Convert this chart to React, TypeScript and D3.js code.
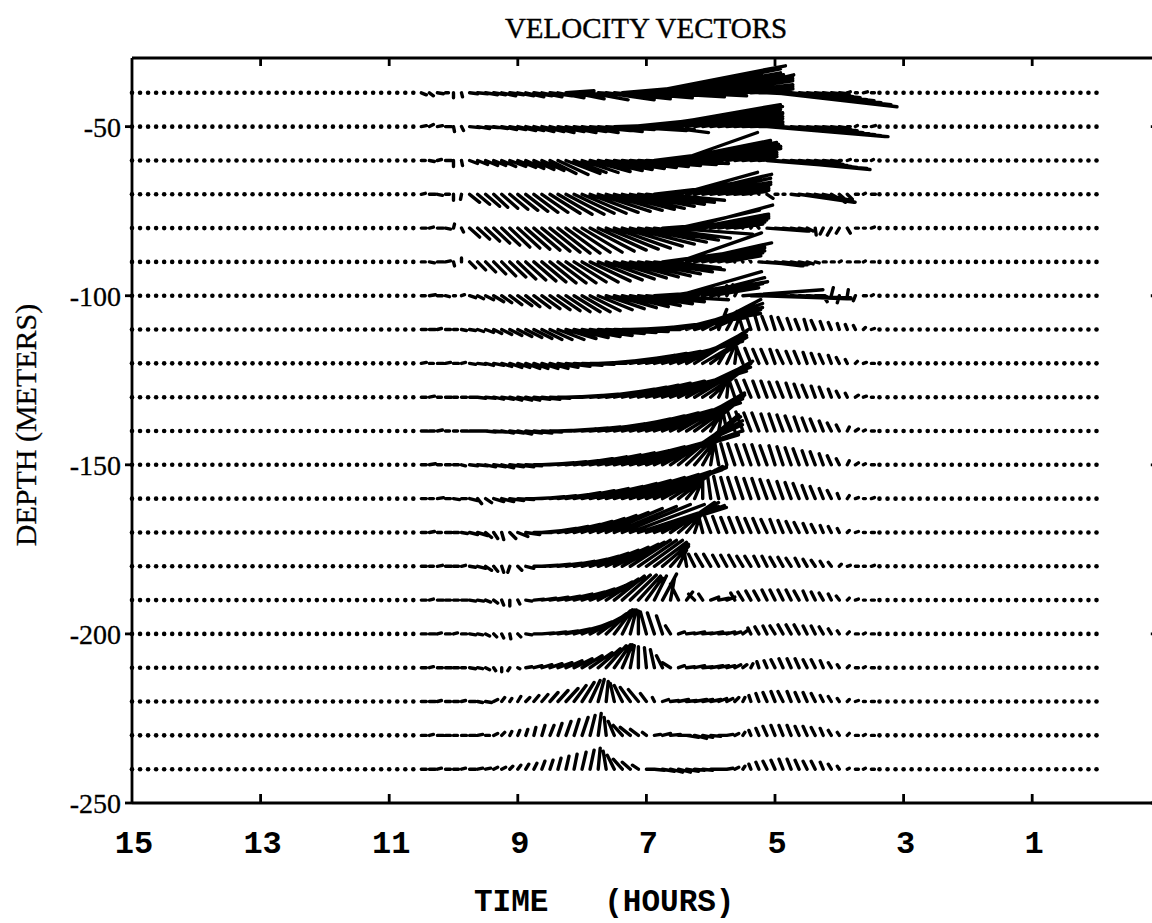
import React from 'react';
import * as d3 from 'd3';

// ---------- data ----------
const DEPTHS = [-40, -50, -60, -70, -80, -90, -100, -110, -120, -130, -140, -150, -160, -170, -180, -190, -200, -210, -220, -230, -240];
const TIME_TICKS = [13, 11, 9, 7, 5, 3, 1];
const TIME_LABELS = [15, 13, 11, 9, 7, 5, 3, 1];
const DEPTH_TICKS = [-50, -100, -150, -200, -250];
const DEPTH_LABELS = ['-50', '-100', '-150', '-200', '-250'];

// sampling of the record (hours): 7.5-minute samples
const RECORD_START = 15;
const RECORD_END = 0;
const SAMPLE_STEP = 0.125;
// window with measurable currents (hours), sampled values below (mm/s)
const WINDOW_START = 10.5;

const U_40 = [5,4,6,3, 0,1, 8,10,12,12,14,14,16,18,18,20, 22,26,28,30,34,38,42,48, 56,70,62,90,139,70,118,110,105,60,98,90,82,75,66,58,50,40,30,20, 122,108,90,75,60,45,30,18,8,3,2,4,3];
const V_40 = [-2,-3,-1,0, -5,-4, -1,-1,-2,-2,-3,-2,-3,-4,-3,-4, -3,-5,2,-6,-4,-7,-3,-7, -6,6,-5,12,27,-4,24,20,18,-3,16,14,12,18,8,6,4,2,0,-1, -14,-12,-10,-8,-7,-5,-4,-2,-1,1,0,1,0];

const U_50 = [5,4,5,6, 1,2, 10,12,12,14,15,16,18,18,20,22, 24,26,30,32,36,40,44,48, 60,64,80,56,110,126,46,112,102,96,88,80,72,64,56,48,40,30,20, 118,113,98,84,70,56,42,28,15,6,3,2,3,4];
const V_50 = [1,2,1,0, -5,-4, -1,-2,-1,-2,-3,-3,-4,-4,-5,-5, -6,-5,-6,-5,-6,-4,-5,-3, 2,-4,8,-3,16,22,-6,20,17,14,14,13,10,8,5,4,2,1,0, -10,-10,-9,-8,-7,-6,-4,-3,-2,-1,0,1,0,1];

const U_60 = [4,5,4,6, 0,1, 8,10,12,12,14,16,18,18,20,22, 26,30,34,32,36,40,44,46,50,54,58,62, 70,96,66,100,79,90,84,78,70,58,50,42,34,24,14, 100,95,80,66,52,40,28,16,6,2,3,2,3,2];
const V_60 = [0,-1,1,0, -6,-5, -3,-4,-5,-5,-6,-6,-7,-8,-9,-10, -13,-14,-13,-12,-12,-11,-10,-9,-8,-7,-6,-5, -4,12,-3,20,28,18,16,14,12,11,8,6,4,2,1, -8,-9,-8,-7,-6,-5,-4,-2,-1,0,1,0,0,1];

const U_70 = [4,6,5,4, 0,-1, 10,12,14,14,16,18,20,22,24,26, 30,34,38,40,44,48,52,56,60,62,64,66, 68,86,62,90,79,85,76,68,60,50,42,34,24,12,-6,6,3,2,8, 55,48,38,28,14,8,5,3,2,4];
const V_70 = [1,0,-1,0, -6,-5, -8,-10,-12,-13,-14,-15,-16,-17,-18,-18, -19,-20,-20,-19,-19,-18,-17,-16,-15,-14,-12,-10, -8,10,-6,16,22,20,16,12,10,8,6,4,3,6,8,-4,0,0,-1, -8,-8,-7,-6,-8,-7,-5,0,1,0];

const U_80 = [5,4,6,5, 1,2, 10,12,14,16,18,20,22,24,26,28, 30,32,34,36,40,44,48,52,56,60,64,68, 72,76,80,82,81,86,74,66,58,48,38,28,6,5,-5, 40,34,26,18,10,6,1,-3,-4,-3,3,3,2,3];
const V_80 = [0,1,0,-1, 4,-4, -9,-11,-13,-15,-17,-19,-20,-21,-22,-23, -24,-25,-25,-24,-24,-23,-22,-21,-20,-18,-16,-14, -12,-10,6,-6,18,23,14,12,10,8,6,4,8,7,6, -3,-3,-3,-3,-2,-3,-7,-6,-7,-5,-5,0,0,1];

const U_90 = [4,5,6,5, 1,0, 6,8,10,12,14,16,18,20,22,24, 26,28,30,32,36,40,44,48,52,56,60,62, 66,70,74,50,83,85,70,62,54,44,34,-4,-5,-4, 40,34,28,22,16,10,6,4,3,3,2,3,4,2,3];
const V_90 = [0,-1,0,1, -4,4, -6,-8,-10,-12,-14,-15,-17,-18,-19,-20, -21,-21,-21,-20,-20,-19,-18,-17,-16,-15,-14,-12, -10,-8,10,-6,29,19,16,14,11,9,6,8,9,7, -3,-4,-4,-3,-3,-2,-2,-1,0,0,1,0,0,1,0];

const U_100 = [4,6,5,4, 2,3, 6,6,8,10,10,12,14,14,16,18, 20,22,24,26,28,30,34,38,42,46,50,54, 58,62,66,78,83,81,70,60,48,8,6,5, 80,100,92,80,66,52,40,28,18,10,4,2,-2,1,-2,3,2];
const V_100 = [0,1,0,-1, 0,1, -2,-3,-4,-6,-7,-9,-10,-11,-12,-13, -14,-15,-16,-16,-16,-15,-14,-13,-12,-11,-10,-8, -6,4,-4,12,24,14,18,12,8,10,11,10, 6,-2,-3,-3,-2,-2,-2,-1,-1,0,-6,8,-7,6,-5,0,1];

const U_110 = [5,6,4,5, 4,5, 6,6,8,8,10,12,14,16,18,20, 22,26,30,34,38,42,46,50,54,58,62,66, 70,76,84,90,84,76,66,58,40,8,10,6, -5,-5,-4,-5,-4,-5,-4,-4,-3,-4,-3,-3,-2,-2,-2,2,3];
const V_110 = [0,0,1,0, 0,-1, -1,-2,-3,-4,-5,-6,-7,-8,-9,-10, -10,-10,-9,-8,-7,-6,-4,-3,-2,0,2,4, 6,9,12,16,22,26,20,30,18,20,18,16, 16,15,14,13,13,12,11,10,10,9,8,7,6,5,4,2,1];

const U_120 = [5,4,6,5, 5,4, 6,8,8,10,10,12,12,14,14,16, 18,20,24,28,32,36,40,44,48,52,56,62, 68,74,80,76,68,60,54,44,30,12,8,2, -6,-6,-6,-6,-5,-6,-5,-5,-4,-4,-4,-3,-3,-2,2,3,3];
const V_120 = [1,0,0,1, 0,1, -1,-1,-2,-2,-3,-4,-4,-5,-5,-5, -5,-4,-3,-2,-1,0,2,4,6,8,10,12, 14,18,22,26,28,32,34,26,22,20,18,16, 15,15,14,14,14,13,12,12,11,10,9,8,6,4,2,1,0];

const U_130 = [5,5,4,6, 4,5, 8,8,10,10,12,12,14,14,16,18, 20,24,28,32,36,40,44,48,52,56,60,66, 72,78,84,80,72,66,56,46,30,12,2, -6,-7,-7,-6,-6,-6,-6,-5,-5,-5,-4,-4,-3,-3,-2,3,3,2];
const V_130 = [0,1,0,0, 0,0, 0,-1,-1,-2,-2,-3,-3,-3,-2,-2, -1,0,1,2,3,4,6,8,10,12,14,16, 18,22,26,30,34,36,34,30,26,24,20, 18,17,17,16,16,15,15,14,13,12,11,10,8,6,4,2,1,0];

const U_140 = [6,5,5,4, 4,6, 8,10,10,12,12,14,14,16,18,20, 22,26,30,34,38,42,46,50,56,62,68,74, 80,86,80,74,66,58,48,36,16,4, -4,-7,-7,-7,-7,-6,-6,-6,-6,-5,-5,-5,-4,-4,-3,2,3,2,3];
const V_140 = [0,0,1,0, 0,0, 0,0,-1,-1,-2,-2,-3,-2,-2,-1, 0,1,2,3,4,5,7,9,12,15,18,21, 24,28,32,36,38,36,34,30,26,22, 20,19,19,18,18,17,17,16,15,14,13,12,10,8,6,4,2,1,0];

const U_150 = [5,6,4,5, 5,4, 8,10,10,12,12,14,16,16,18,20, 24,28,32,38,44,50,56,62,70,80,90,100, 96,88,80,70,60,48,34,18,4, -4,-6,-7,-7,-7,-7,-7,-6,-6,-6,-6,-5,-5,-4,-4,-3,2,3,2,3];
const V_150 = [0,1,0,0, 0,-1, -1,-1,-2,-2,-3,-2,-2,-1,0,1, 2,3,4,6,8,10,12,14,18,22,26,30, 34,40,44,48,50,46,40,32,26, 22,21,21,20,20,20,19,19,18,17,16,14,13,11,9,6,4,2,1,0];

const U_160 = [5,4,6,5, 6,5, 8,4,6,10,12,14,16,18,20,22, 26,30,34,40,46,52,58,64,70,76,80,84, 80,72,60,48,36,22,10,0, -3,-5,-6,-7,-7,-7,-7,-7,-7,-6,-6,-6,-5,-5,-4,-4,-2,2,3,2,3];
const V_160 = [0,0,1,0, -1,0, -2,-5,-4,-3,-3,-2,-1,0,1,2, 3,4,6,8,10,12,15,18,21,24,27,29, 31,32,32,30,28,26,24,22, 22,22,21,21,21,20,20,19,18,17,16,15,13,12,10,8,5,3,1,0,1];

const U_170 = [5,5,4,6, 5,6, 8,10,6,4,2,6,10,14,18,22, 26,30,34,38,42,46,50,56,62,68,74,80, 80,70,56,44,30,18,6, -4,-6,-6,-6,-6,-6,-6,-6,-6,-5,-5,-5,-5,-4,-4,-3,-3,-2,2,3,2,3];
const V_170 = [0,1,0,0, 0,-1, -2,-3,-5,-6,-7,-6,-4,-2,0,2, 4,6,8,11,14,17,20,24,26,28,28,26, 25,27,30,30,26,22,18, 16,16,16,15,15,15,14,14,13,13,12,11,10,9,8,7,6,4,2,1,0,0];

const U_180 = [5,4,5,6, 5,4, 6,8,6,4,2,-2,4,8,12,16, 20,24,28,32,36,38,40,42,44,42,40,38, 36,32,26,18,8,-2, -6,-7,-7,-6,-6,-6,-6,-6,-5,-5,-5,-5,-5,-4,-4,-4,-3,-3,2,3,3,2,3];
const V_180 = [0,0,1,0, 0,1, -1,-2,-4,-5,-6,-6,-4,-2,0,1, 2,3,5,7,10,13,16,19,22,24,26,26, 26,24,22,20,16,12, 12,12,12,11,11,11,10,10,10,10,9,9,8,8,7,6,5,4,2,1,0,0,1];

const U_190 = [5,4,6,5, 5,6, 6,6,5,4,2,0,2,6,10,14, 18,22,26,30,32,34,34,32,30,28,26,22, 16,12,14,4,-8,6,-6,-4,8,10,8, -4,-5,-5,-5,-5,-5,-5,-5,-5,-4,-4,-4,-3,-3,2,3,2,3];
const V_190 = [0,1,0,0, 0,0, -1,-1,-2,-3,-5,-6,-4,-1,1,2, 3,4,6,8,11,14,18,21,24,25,25,24, 22,24,26,22,16,8,6,6,3,2,3, 7,8,9,9,10,10,10,10,9,9,8,7,6,4,2,1,0,0];

const U_200 = [5,6,4,5, 4,5, 6,5,4,3,2,1,3,6,9,12, 16,20,24,28,30,30,28,24,18,12,6,0, -6,-7,-6,-5,6,8,10,10,12,10,8,6,4, -3,-4,-4,-5,-5,-5,-5,-4,-4,-4,-3,-2,2,3,2,3];
const V_200 = [0,0,1,0, 1,0, -1,-1,-2,-3,-4,-5,-3,-1,0,1, 2,3,5,8,12,16,20,23,24,24,24,23, 22,21,18,8,2,1,2,1,2,1,2,2,3, 6,7,8,8,9,9,9,8,8,7,5,3,2,0,1,0];

const U_210 = [5,4,5,6, 5,4, 6,5,4,2,0,-2,2,6,8,10, 12,14,16,18,20,22,22,20,16,10,4,0, -2,-4,-6,-8,6,8,10,10,12,10,8,6,4, 2,-2,-3,-4,-4,-4,-4,-4,-4,-3,-3,-2,2,3,2,3];
const V_210 = [0,1,0,0, 0,0, -1,-1,-2,-3,-4,-3,-1,1,2,3, 4,5,7,9,12,15,19,22,23,23,22,21, 20,18,12,5,2,1,2,1,2,2,2,3,3, 4,6,7,8,9,9,9,8,8,7,5,3,2,0,1,0];

const U_220 = [5,6,4,5, 5,4, 6,5,6,4,3,2,3,4,5,6, 8,10,12,12,12,10,6,2,-4,-8,-10,-10, -6,-2,6,8,10,10,12,10,10,8,6,4,2, -2,-3,-4,-4,-5,-4,-4,-4,-4,-3,-3,-2,2,3,2,3];
const V_220 = [0,0,1,0, 0,1, 0,-1,-1,2,4,3,5,4,6,7, 9,11,13,16,19,21,22,20,18,16,14,12, 8,4,2,1,2,1,2,2,2,3,3,4,4, 6,8,9,10,10,10,9,9,8,6,5,3,2,1,0,0];

const U_230 = [5,4,6,5, 4,5, 6,5,4,4,3,2,2,2,2,3, 4,4,5,5,6,5,3,-2,-6,-9,-10,-8, -4,6,8,10,12,12,12,10,10,8,6,4,2, -2,-3,-4,-4,-4,-4,-4,-4,-4,-3,-3,-2,2,3,2,3];
const V_230 = [0,1,0,0, 0,0, 0,1,0,2,3,4,5,6,8,10, 10,12,14,16,18,20,22,18,14,10,8,6, 3,1,2,1,0,-2,-3,-2,-1,0,1,2,3, 5,7,9,10,10,10,9,9,8,7,5,3,2,0,1,0];

const U_240 = [5,6,4,5, 5,4, 6,5,5,4,4,3,3,3,3,3, 3,3,3,3,4,4,2,-3,-7,-9,-8,-6, 8,10,12,12,12,12,10,10,8,8,6,4,2, -2,-3,-4,-4,-4,-4,-4,-4,-4,-3,-3,-2,2,3,2,3];
const V_240 = [0,0,1,0, 0,1, 0,1,1,2,2,3,4,5,6,8, 9,11,13,15,17,19,21,18,14,10,7,4, 0,-1,-2,-3,-3,-2,-1,-1,0,0,1,2,3, 5,7,8,9,10,10,9,8,8,7,5,3,1,0,1,0];

const U_ROWS = [U_40, U_50, U_60, U_70, U_80, U_90, U_100, U_110, U_120, U_130, U_140, U_150, U_160, U_170, U_180, U_190, U_200, U_210, U_220, U_230, U_240];
const V_ROWS = [V_40, V_50, V_60, V_70, V_80, V_90, V_100, V_110, V_120, V_130, V_140, V_150, V_160, V_170, V_180, V_190, V_200, V_210, V_220, V_230, V_240];

// ---------- chart ----------
const W = 1152;
const H = 923;
const VEC_PX_PER_MM_S = 1; // stick length scale

export default function App() {
  const x = d3.scaleLinear().domain([15, -1]).range([132, 1160.8]);
  const y = d3.scaleLinear().domain([-250, -30]).range([803, 59]);

  const nWin = U_40.length;
  const windowTimes = d3.range(nWin).map((i) => WINDOW_START - i * SAMPLE_STEP);
  const windowEnd = windowTimes[nWin - 1];
  const allTimes = d3.range(0, Math.round((RECORD_START - RECORD_END) / SAMPLE_STEP) + 1).map((i) => RECORD_START - i * SAMPLE_STEP);
  const quietTimes = allTimes.filter((t) => t > WINDOW_START + 1e-6 || t < windowEnd - 1e-6);

  const left = x(15);
  const right = x(-1);
  const top = 58;
  const bottom = y(-250);

  const rows = DEPTHS.map((d, r) => {
    const U = U_ROWS[r];
    const V = V_ROWS[r];
    const y0 = y(d);
    let path = '';
    windowTimes.forEach((t, i) => {
      const x0 = x(t);
      const u = U[i] ?? 0;
      const v = V[i] ?? 0;
      const x1 = x0 + u * VEC_PX_PER_MM_S;
      const y1 = y0 - v * VEC_PX_PER_MM_S;
      path += `M${x0.toFixed(1)},${y0.toFixed(1)}L${x1.toFixed(1)},${y1.toFixed(1)}`;
    });
    return { d, y0, path };
  });

  const serif = "'Liberation Serif', 'Times New Roman', serif";
  const mono = "'Liberation Mono', 'Courier New', monospace";

  return (
    <svg width={W} height={H} viewBox={`0 0 ${W} ${H}`} style={{ position: 'absolute', left: 0, top: 0, background: '#fff' }}>
      <rect x={0} y={0} width={W} height={H} fill="#fff" />
      {/* title */}
      <text x={646} y={38} textAnchor="middle" fontFamily={serif} fontSize={29} fill="#000" stroke="#000" strokeWidth={0.4}>VELOCITY VECTORS</text>

      {/* sticks */}
      <g stroke="#000" strokeWidth={3.4} strokeLinecap="round" fill="none">
        {rows.map((row) => (
          <path key={row.d} d={row.path} />
        ))}
      </g>
      {/* near-zero samples: dots */}
      <g fill="#000">
        {rows.map((row) =>
          quietTimes.map((t) => <circle key={`${row.d}-${t}`} cx={x(t)} cy={row.y0} r={2.3} />)
        )}
      </g>

      {/* frame */}
      <g stroke="#000" strokeWidth={2.8} fill="none">
        <line x1={left} y1={top} x2={left} y2={bottom} />
        <line x1={left} y1={top} x2={right} y2={top} />
        <line x1={left} y1={bottom} x2={right} y2={bottom} />
        <line x1={right} y1={top} x2={right} y2={bottom} />
        {TIME_TICKS.map((t) => (
          <g key={`tt${t}`}>
            <line x1={x(t)} y1={top} x2={x(t)} y2={top + 8} />
            <line x1={x(t)} y1={bottom} x2={x(t)} y2={bottom - 9} />
          </g>
        ))}
        {DEPTH_TICKS.map((d) => (
          <g key={`dt${d}`}>
            <line x1={left - 7} y1={y(d)} x2={left} y2={y(d)} />
            <line x1={right - 10} y1={y(d)} x2={right} y2={y(d)} />
          </g>
        ))}
      </g>

      {/* depth labels */}
      {DEPTH_TICKS.map((d, i) => (
        <text key={`dl${d}`} x={121} y={y(d) + 10} textAnchor="end" fontFamily={serif} fontSize={28} fill="#000" stroke="#000" strokeWidth={0.3}>
          {DEPTH_LABELS[i]}
        </text>
      ))}
      <text transform="translate(36,425) rotate(-90)" textAnchor="middle" fontFamily={serif} fontSize={30} fill="#000" stroke="#000" strokeWidth={0.3}>
        DEPTH (METERS)
      </text>

      {/* time labels */}
      {TIME_LABELS.map((t) => (
        <text key={`tl${t}`} x={x(t) + 2} y={853} textAnchor="middle" fontFamily={mono} fontWeight="bold" fontSize={32} fill="#000">
          {String(t)}
        </text>
      ))}
      <text x={474} y={911} fontFamily={mono} fontWeight="bold" fontSize={31} fill="#000" style={{ whiteSpace: 'pre' }}>
        {'TIME   (HOURS)'}
      </text>
    </svg>
  );
}
